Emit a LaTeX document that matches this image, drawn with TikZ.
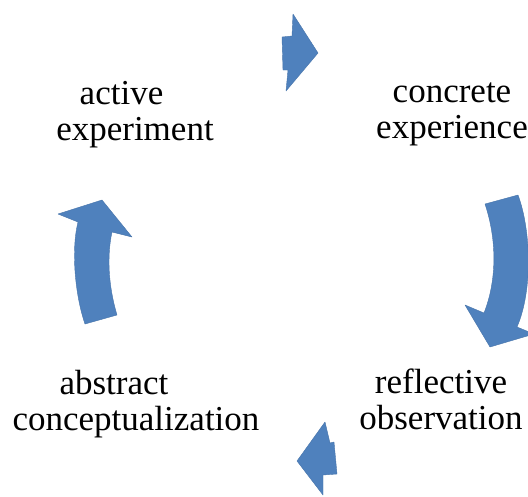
\documentclass[tikz,border=0pt]{standalone}
\usepackage{fontspec}
\setmainfont{Liberation Serif}
\definecolor{arrowblue}{HTML}{4F81BD}
\begin{document}
\begin{tikzpicture}[x=1pt,y=-1pt,line join=round,
lbl/.style={align=center,anchor=base,inner sep=0pt,font=\fontsize{35}{36}\selectfont},
blk/.style={fill=arrowblue,draw=arrowblue!90!black,thin}]
\useasboundingbox (0,0) rectangle (528,496);
\node[lbl] (active) at (135,140) {active\hspace*{27pt}\\experiment};
\node[lbl] (concrete) at (452,138) {concrete\\experience};
\node[lbl] (reflective) at (441,429) {reflective\\observation};
\node[lbl] (abstract) at (136,430) {abstract\hspace*{44pt}\\conceptualization};
% block arrows round the cycle
\begin{scope}
\clip (0,0) rectangle (528,496);
\draw[blk] (293,14)--(318,53)--(286,91)--(288,70)--(283,70)--(282,37)--(292,36)--cycle;
\draw[blk] (485,204)--(518,195) .. controls (531,230) and (533,290) .. (517,327)
  --(534,334)--(490,347)--(465,305)--(484,313) .. controls (497,280) and (497,240) .. (485,204)--cycle;
\draw[blk] (325,422)--(330,443)--(334,442)--(337,474)--(323,475)--(323,495)--(297,461)--cycle;
\draw[blk] (85,324)--(117,315) .. controls (108,285) and (107,255) .. (112,232)
  --(132,237)--(102,200)--(58,214)--(78,222) .. controls (71,250) and (75,295) .. (85,324)--cycle;
\end{scope}
\end{tikzpicture}
\end{document}
